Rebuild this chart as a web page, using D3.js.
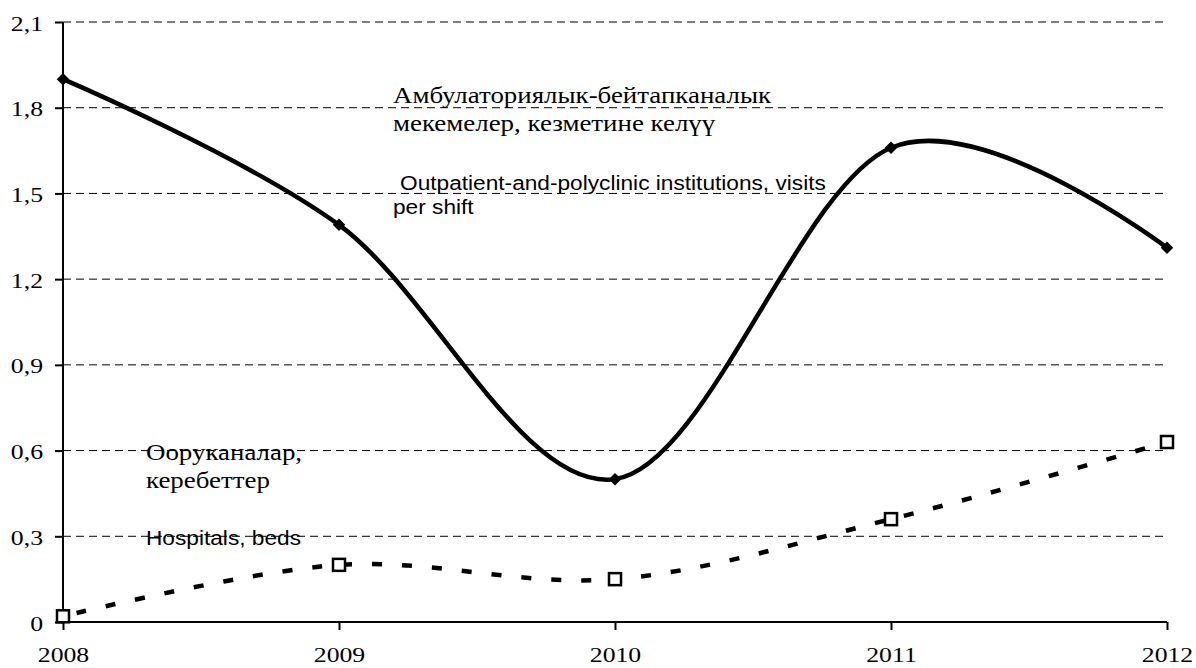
<!DOCTYPE html>
<html>
<head>
<meta charset="utf-8">
<script src="https://cdn.jsdelivr.net/npm/d3@7"></script>
<style>
  body { margin: 0; background: #fff; }
</style>
</head>
<body>
<div id="chart"></div>
<script>
(function() {

var years = [2008, 2009, 2010, 2011, 2012];
var outpatient = [1.90, 1.39, 0.50, 1.66, 1.31];
var hospitals = [0.02, 0.20, 0.15, 0.36, 0.63];
var yTicks = [0, 0.3, 0.6, 0.9, 1.2, 1.5, 1.8, 2.1];

var outpatientLabelKy = ["Амбулаториялык-бейтапканалык", "мекемелер, кезметине келүү"];
var outpatientLabelEn = ["Outpatient-and-polyclinic institutions, visits", "per shift"];
var hospitalsLabelKy = ["Ооруканалар,", "керебеттер"];
var hospitalsLabelEn = ["Hospitals, beds"];

var serif = "'Liberation Serif', 'Times New Roman', Times, serif",
    sans = "'Liberation Sans', Arial, Helvetica, sans-serif";

var margin = {top: 22, right: 29, bottom: 46, left: 63},
    width = 1196 - margin.left - margin.right,
    height = 668 - margin.top - margin.bottom;

var x = d3.scaleLinear().domain([2008, 2012]).range([0, width]);
var y = d3.scaleLinear().domain([0, 2.1]).range([height, 0]);

var root = d3.select("#chart").append("svg")
    .attr("width", 1196)
    .attr("height", 668);

var svg = root.append("g")
    .attr("transform", "translate(" + margin.left + "," + margin.top + ")");

// gridlines
svg.selectAll(".grid")
    .data(yTicks.slice(1))
  .enter().append("line")
    .attr("x1", 0)
    .attr("x2", width - 4)
    .attr("y1", function(d) { return y(d); })
    .attr("y2", function(d) { return y(d); })
    .style("stroke", "#000")
    .style("stroke-width", 1)
    .style("stroke-dasharray", "8,5");

// the original text is a bit wider than it is tall, so stretch it sideways
function textBlock(lines, x0, y0, lineH, font, size, sx) {
  var g = root.append("g")
      .attr("transform", "translate(" + x0 + "," + y0 + ") scale(" + sx + ",1)");
  g.selectAll("text")
      .data(lines)
    .enter().append("text")
      .attr("x", 0)
      .attr("y", function(d, i) { return i * lineH; })
      .style("font-family", font)
      .style("font-size", size + "px")
      .style("fill", "#000")
      .text(function(d) { return d; });
}

textBlock(outpatientLabelKy, 393, 103, 28, serif, 23, 1.17);
textBlock(outpatientLabelEn.slice(0, 1), 400, 190, 0, sans, 21, 1.08);
textBlock(outpatientLabelEn.slice(1), 393, 214, 0, sans, 21, 1.08);
textBlock(hospitalsLabelKy, 146, 460, 28, serif, 23, 1.17);
textBlock(hospitalsLabelEn, 146, 545, 0, sans, 21, 1.08);

// axes
var tickSx = 1.17;
var yAxis = svg.append("g")
    .call(d3.axisLeft(y).tickValues(yTicks).tickSize(8).tickPadding(12)
      .tickFormat(function(d) { return d === 0 ? "0" : d3.format(".1f")(d).replace(".", ","); }));
yAxis.select(".domain").attr("d", "M0," + height + "V0").style("stroke-width", 2);
yAxis.selectAll(".tick line").style("stroke-width", 2);
yAxis.selectAll(".tick text")
    .attr("transform", "translate(-20,1) scale(" + tickSx + ",1)")
    .attr("x", 0)
    .style("font-family", serif)
    .style("font-size", "22px")
    .style("fill", "#000");

var xAxis = svg.append("g")
    .attr("transform", "translate(0," + height + ")")
    .call(d3.axisBottom(x).tickValues(years).tickSize(8).tickPadding(16).tickFormat(d3.format("d")));
xAxis.select(".domain").attr("d", "M0,0H" + width).style("stroke-width", 2);
xAxis.selectAll(".tick line").style("stroke-width", 2);
xAxis.selectAll(".tick text")
    .attr("transform", "scale(" + tickSx + ",1)")
    .style("font-family", serif)
    .style("font-size", "22px")
    .style("fill", "#000");

var line = d3.line()
    .x(function(d, i) { return x(years[i]); })
    .y(function(d) { return y(d); })
    .curve(d3.curveCatmullRom.alpha(0));

svg.append("path")
    .datum(hospitals)
    .attr("d", line)
    .style("fill", "none")
    .style("stroke", "#000")
    .style("stroke-width", 4.5)
    .style("stroke-dasharray", "10,20")
    .style("stroke-dashoffset", -14);

svg.append("path")
    .datum(outpatient)
    .attr("d", line)
    .style("fill", "none")
    .style("stroke", "#000")
    .style("stroke-width", 4.5);

svg.selectAll(".diamond")
    .data(outpatient)
  .enter().append("path")
    .attr("d", d3.symbol().type(d3.symbolDiamond2).size(100))
    .attr("transform", function(d, i) { return "translate(" + x(years[i]) + "," + y(d) + ")"; })
    .style("fill", "#000");

svg.selectAll(".sq")
    .data(hospitals)
  .enter().append("rect")
    .attr("x", function(d, i) { return x(years[i]) - 6; })
    .attr("y", function(d) { return y(d) - 6; })
    .attr("width", 12)
    .attr("height", 12)
    .style("fill", "#fff")
    .style("stroke", "#000")
    .style("stroke-width", 2.5);

})();
</script>
</body>
</html>
